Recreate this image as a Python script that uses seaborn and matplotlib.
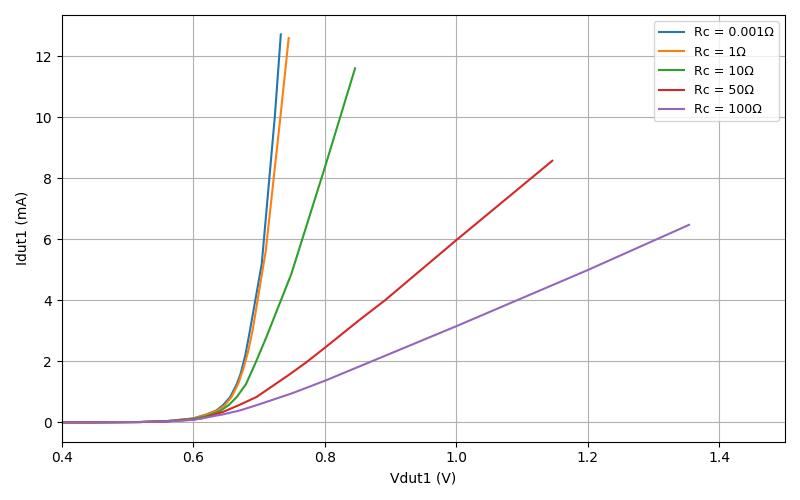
import matplotlib
matplotlib.use("Agg")
import matplotlib.pyplot as plt
import seaborn as sns
import pandas as pd

labels = ["Rc = 0.001Ω", "Rc = 1Ω", "Rc = 10Ω", "Rc = 50Ω", "Rc = 100Ω"]

v_rc0001 = [0.0, 0.3, 0.45, 0.52, 0.56, 0.60, 0.62, 0.635, 0.645, 0.656, 0.666, 0.672, 0.679, 0.686, 0.704, 0.724, 0.733]
i_rc0001 = [0.0, 0.0, 0.0, 0.01, 0.04, 0.13, 0.26, 0.39, 0.56, 0.83, 1.25, 1.60, 2.20, 3.00, 5.19, 10.04, 12.71]

v_rc1 = [0.0, 0.3, 0.45, 0.52, 0.56, 0.60, 0.62, 0.637, 0.648, 0.658, 0.668, 0.676, 0.683, 0.690, 0.710, 0.732, 0.745]
i_rc1 = [0.0, 0.0, 0.0, 0.01, 0.04, 0.12, 0.25, 0.39, 0.56, 0.83, 1.25, 1.75, 2.30, 3.00, 5.60, 9.93, 12.59]

v_rc10 = [0.0, 0.3, 0.45, 0.52, 0.56, 0.60, 0.62, 0.640, 0.654, 0.666, 0.680, 0.694, 0.711, 0.749, 0.800, 0.846]
i_rc10 = [0.0, 0.0, 0.0, 0.01, 0.04, 0.11, 0.20, 0.36, 0.57, 0.83, 1.25, 1.92, 2.79, 4.86, 8.35, 11.60]

v_rc50 = [0.0, 0.3, 0.45, 0.52, 0.56, 0.60, 0.615, 0.645, 0.671, 0.696, 0.747, 0.772, 0.801, 0.853, 0.891, 1.000, 1.146]
i_rc50 = [0.0, 0.0, 0.0, 0.01, 0.03, 0.09, 0.14, 0.34, 0.58, 0.83, 1.58, 1.97, 2.46, 3.36, 3.99, 5.97, 8.57]

v_rc100 = [0.0, 0.3, 0.45, 0.52, 0.56, 0.60, 0.645, 0.671, 0.696, 0.750, 0.801, 1.000, 1.200, 1.354]
i_rc100 = [0.0, 0.0, 0.0, 0.01, 0.03, 0.08, 0.26, 0.39, 0.56, 0.95, 1.37, 3.15, 4.99, 6.47]

series_v = [v_rc0001, v_rc1, v_rc10, v_rc50, v_rc100]
series_i = [i_rc0001, i_rc1, i_rc10, i_rc50, i_rc100]

rows = []
for lab, vs, is_ in zip(labels, series_v, series_i):
    for k, (v, i) in enumerate(zip(vs, is_)):
        rows.append({"series": lab, "order": k, "V": v, "I": i})
df = pd.DataFrame(rows)

fig, ax = plt.subplots(figsize=(8, 5), dpi=100)
sns.lineplot(data=df, x="V", y="I", hue="series", hue_order=labels,
             palette="tab10", sort=False, estimator=None, units="series",
             ax=ax, linewidth=1.5)
ax.set_xlim(0.4, 1.5)
ax.grid(True)
ax.set_axisbelow(True)
ax.set_xlabel("Vdut1 (V)")
ax.set_ylabel("Idut1 (mA)")
ax.legend(loc="upper right", title=None, fontsize=9)
fig.tight_layout()
fig.savefig("out.png", dpi=100)
